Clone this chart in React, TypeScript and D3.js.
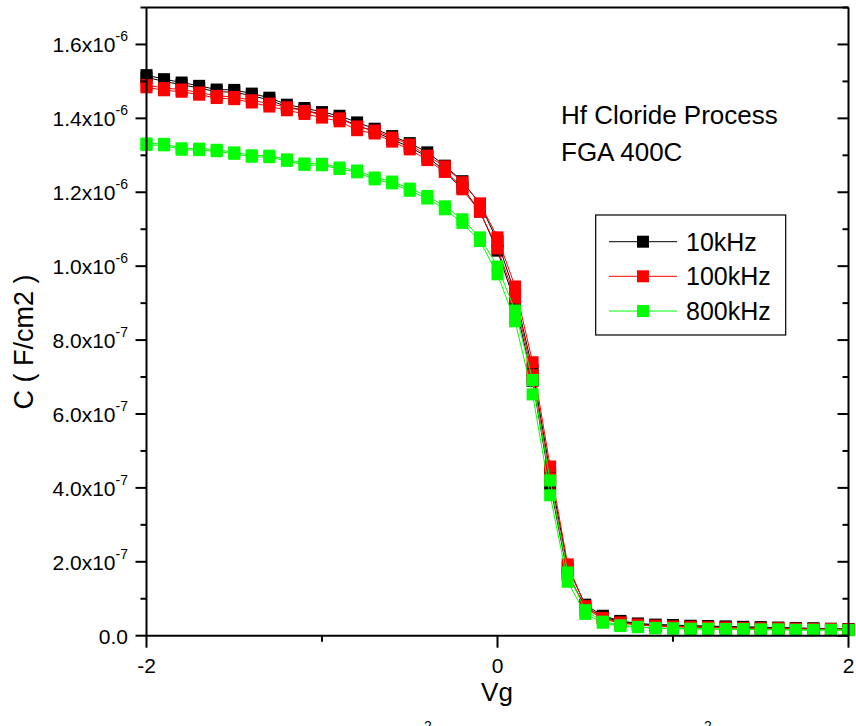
import React from "react";
import * as d3 from "d3";

// Gate voltage (V)
const vg = [
  -2.0, -1.9, -1.8, -1.7, -1.6, -1.5, -1.4, -1.3, -1.2, -1.1, -1.0,
  -0.9, -0.8, -0.7, -0.6, -0.5, -0.4, -0.3, -0.2, -0.1, 0.0,
  0.1, 0.2, 0.3, 0.4, 0.5, 0.6, 0.7, 0.8, 0.9, 1.0,
  1.1, 1.2, 1.3, 1.4, 1.5, 1.6, 1.7, 1.8, 1.9, 2.0,
];

// Capacitance, in units of 1e-6 F/cm2 (two sweeps per frequency)
const c10kUp = [
  1.517, 1.506, 1.497, 1.488, 1.478, 1.477, 1.467, 1.456, 1.437, 1.428, 1.417,
  1.407, 1.389, 1.372, 1.352, 1.333, 1.308, 1.272, 1.230, 1.168, 1.068,
  0.925, 0.720, 0.440, 0.185, 0.084, 0.054, 0.040, 0.033, 0.030, 0.029,
  0.027, 0.026, 0.025, 0.024, 0.023, 0.022, 0.021, 0.020, 0.019, 0.018,
];
const c10kDown = [
  1.511, 1.500, 1.491, 1.482, 1.472, 1.471, 1.461, 1.450, 1.431, 1.422, 1.411,
  1.401, 1.381, 1.364, 1.343, 1.322, 1.296, 1.258, 1.213, 1.148, 1.042,
  0.900, 0.690, 0.410, 0.165, 0.078, 0.051, 0.038, 0.032, 0.029, 0.028,
  0.026, 0.025, 0.024, 0.023, 0.022, 0.021, 0.020, 0.019, 0.018, 0.017,
];
const c100kUp = [
  1.490, 1.482, 1.478, 1.470, 1.461, 1.458, 1.449, 1.440, 1.430, 1.420, 1.410,
  1.400, 1.378, 1.367, 1.348, 1.329, 1.299, 1.270, 1.227, 1.170, 1.078,
  0.945, 0.740, 0.458, 0.193, 0.080, 0.048, 0.036, 0.030, 0.027, 0.025,
  0.024, 0.023, 0.022, 0.021, 0.020, 0.020, 0.019, 0.018, 0.018, 0.017,
];
const c100kDown = [
  1.484, 1.476, 1.472, 1.464, 1.455, 1.452, 1.443, 1.432, 1.422, 1.412, 1.402,
  1.392, 1.368, 1.359, 1.337, 1.316, 1.287, 1.255, 1.208, 1.147, 1.048,
  0.915, 0.705, 0.425, 0.170, 0.075, 0.045, 0.034, 0.029, 0.026, 0.024,
  0.023, 0.022, 0.021, 0.020, 0.019, 0.019, 0.018, 0.017, 0.017, 0.016,
];
const c800kUp = [
  1.332, 1.331, 1.319, 1.318, 1.315, 1.308, 1.300, 1.299, 1.289, 1.278, 1.277,
  1.267, 1.259, 1.240, 1.229, 1.210, 1.190, 1.162, 1.127, 1.078, 0.999,
  0.880, 0.692, 0.420, 0.171, 0.069, 0.038, 0.028, 0.024, 0.021, 0.020,
  0.019, 0.019, 0.018, 0.018, 0.017, 0.017, 0.016, 0.016, 0.016, 0.015,
];
const c800kDown = [
  1.328, 1.327, 1.315, 1.314, 1.311, 1.304, 1.296, 1.295, 1.285, 1.274, 1.273,
  1.263, 1.254, 1.235, 1.224, 1.204, 1.183, 1.154, 1.117, 1.068, 0.978,
  0.851, 0.653, 0.380, 0.146, 0.059, 0.035, 0.026, 0.023, 0.020, 0.019,
  0.018, 0.018, 0.017, 0.017, 0.016, 0.016, 0.015, 0.015, 0.015, 0.015,
];

const seriesNames = ["10kHz", "100kHz", "800kHz"];
const seriesColors = ["#000000", "#ff0000", "#00ff00"];
const seriesData = [
  [c10kUp, c10kDown],
  [c100kUp, c100kDown],
  [c800kUp, c800kDown],
];

// Axis ticks
const xMajorTicks = [-2, 0, 2];
const xMinorTicks = [-1, 1];
const xTickLabels = ["-2", "0", "2"];
const yMajorTicks = [0, 0.2, 0.4, 0.6, 0.8, 1.0, 1.2, 1.4, 1.6];
const yMinorTicks = [0.1, 0.3, 0.5, 0.7, 0.9, 1.1, 1.3, 1.5, 1.7];
const yTickMantissa = ["0.0", "2.0x10", "4.0x10", "6.0x10", "8.0x10", "1.0x10", "1.2x10", "1.4x10", "1.6x10"];
const yTickExponent = ["", "-7", "-7", "-7", "-7", "-6", "-6", "-6", "-6"];

const annotation = ["Hf Cloride Process", "FGA 400C"];

const FONT = "'Liberation Sans', Arial, Helvetica, sans-serif";

export default function App() {
  const W = 856;
  const H = 726;
  const left = 146.5;
  const right = 848.5;
  const top = 7.5;
  const bottom = 635.7;

  const x = d3.scaleLinear().domain([-2, 2]).range([left, right]);
  const y = d3.scaleLinear().domain([0, 1.7]).range([bottom, top]);

  const line = d3
    .line<number>()
    .x((_, i) => x(vg[i]))
    .y((d) => y(d));

  const ms = 12; // marker size

  const legendX = 595.7;
  const legendY = 215;
  const legendW = 190;
  const legendH = 120;
  const legendRows = [241.7, 276.3, 311];

  return (
    <svg
      width={W}
      height={H}
      style={{ position: "absolute", left: 0, top: 0, background: "#fff" }}
      fontFamily={FONT}
    >
      <rect x={0} y={0} width={W} height={H} fill="#fff" />

      {/* data */}
      {seriesData.map((sweeps, si) => (
        <g key={si}>
          {sweeps.map((vals, k) => (
            <g key={k}>
              <path d={line(vals) || ""} fill="none" stroke={seriesColors[si]} strokeWidth={1} />
              {vals.map((v, i) => (
                <rect
                  key={i}
                  x={x(vg[i]) - ms / 2}
                  y={y(v) - ms / 2}
                  width={ms}
                  height={ms}
                  fill={seriesColors[si]}
                />
              ))}
            </g>
          ))}
        </g>
      ))}

      {/* axes frame */}
      <g stroke="#000" strokeWidth={2} fill="none">
        <line x1={left} y1={bottom} x2={right} y2={bottom} />
        <line x1={left} y1={top} x2={right} y2={top} />
        <line x1={left} y1={top} x2={left} y2={bottom} />
        <line x1={right} y1={top} x2={right} y2={bottom} />
        {xMajorTicks.map((t) => (
          <line key={"xM" + t} x1={x(t)} y1={bottom} x2={x(t)} y2={bottom + 12} />
        ))}
        {xMinorTicks.map((t) => (
          <line key={"xm" + t} x1={x(t)} y1={bottom} x2={x(t)} y2={bottom + 6} />
        ))}
        {yMajorTicks.map((t) => (
          <g key={"yM" + t}>
            <line x1={left - 11} y1={y(t)} x2={left} y2={y(t)} />
            <line x1={right - 11} y1={y(t)} x2={right} y2={y(t)} />
          </g>
        ))}
        {yMinorTicks.map((t) => (
          <g key={"ym" + t}>
            <line x1={left - 6} y1={y(t)} x2={left} y2={y(t)} />
            <line x1={right - 6} y1={y(t)} x2={right} y2={y(t)} />
          </g>
        ))}
      </g>

      {/* tick labels */}
      {xMajorTicks.map((t, i) => (
        <text key={"xl" + t} x={x(t)} y={673} fontSize={21} textAnchor="middle" fill="#000">
          {xTickLabels[i]}
        </text>
      ))}
      {yMajorTicks.map((t, i) => (
        <text key={"yl" + t} x={128} y={y(t) + 8} fontSize={21} textAnchor="end" fill="#000">
          {yTickMantissa[i]}
          {yTickExponent[i] ? (
            <tspan fontSize={14} dy={-11}>
              {yTickExponent[i]}
            </tspan>
          ) : null}
        </text>
      ))}

      {/* axis titles */}
      <text x={497} y={701} fontSize={26} textAnchor="middle" fill="#000">
        Vg
      </text>
      <text
        transform={`translate(33,342) rotate(-90)`}
        fontSize={27}
        textAnchor="middle"
        fill="#000"
      >
        C ( F/cm2 )
      </text>

      {/* annotation */}
      {annotation.map((s, i) => (
        <text key={s} x={561} y={124 + i * 37} fontSize={26} fill="#000">
          {s}
        </text>
      ))}

      {/* legend */}
      <rect x={legendX} y={legendY} width={legendW} height={legendH} fill="#fff" stroke="#000" strokeWidth={1.2} />
      {seriesNames.map((name, i) => (
        <g key={name}>
          <line x1={609} x2={677} y1={legendRows[i]} y2={legendRows[i]} stroke={seriesColors[i]} strokeWidth={1} />
          <rect x={643 - ms / 2} y={legendRows[i] - ms / 2} width={ms} height={ms} fill={seriesColors[i]} />
          <text x={686} y={legendRows[i] + 9} fontSize={25} fill="#000">
            {name}
          </text>
        </g>
      ))}

      {/* caption fragments cut off at the page bottom, as in the source */}
      <text x={428} y={731} fontSize={14} textAnchor="middle" fill="#000">2</text>
      <text x={708} y={731} fontSize={14} textAnchor="middle" fill="#000">2</text>
    </svg>
  );
}
